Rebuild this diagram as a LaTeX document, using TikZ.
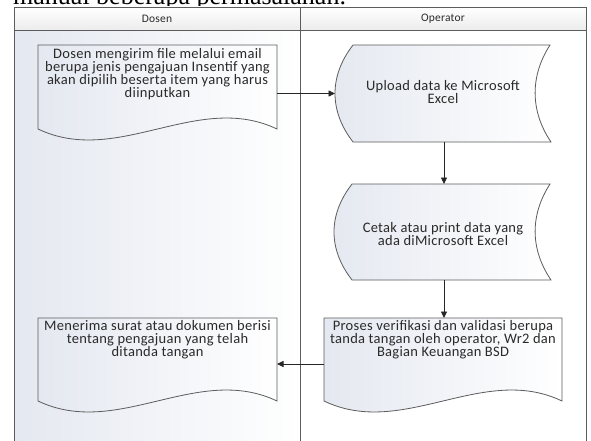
\documentclass[tikz,border=0pt]{standalone}
\usepackage{fontspec}
\setmainfont{Carlito}[LetterSpace=2]
\newfontfamily\captionserif{Liberation Serif}
\usetikzlibrary{arrows.meta}
\definecolor{edge}{HTML}{5C5C5C}
\definecolor{ink}{HTML}{2A2A2A}
\definecolor{tint}{HTML}{E4E8F0}
\definecolor{band}{HTML}{ECECEC}
\begin{document}
\begin{tikzpicture}[x=1pt,y=-1pt,
  laneline/.style={draw=edge, line width=0.8pt},
  shapeline/.style={draw=edge, line width=0.8pt, left color=tint, right color=white},
  boxtext/.style={text=ink, font=\fontsize{14.5}{13}\selectfont, align=center, inner sep=0pt},
  lanehead/.style={text=ink, font=\fontsize{11.5}{13}\selectfont, inner sep=0pt},
  flow/.style={draw=black!85, line width=0.8pt, -{Triangle[length=6.5pt,width=6pt]}}]
\useasboundingbox (0,0) rectangle (591,441);
\fill[white] (0,0) rectangle (591,441);

% line of body text above the pool, cut by the page edge
\node[anchor=base west, inner sep=0pt, text=black,
      font=\captionserif\fontsize{26}{30}\selectfont] (caption) at (13,4.5)
      {manual beberapa permasalahan.};

% pool with two lanes
\shade[left color=tint, right color=white] (14,30) rectangle (300,450);
\fill[white] (300,30) rectangle (586,450);
\shade[top color=white, bottom color=band] (14,7) rectangle (586,30);
\draw[laneline] (14,450) -- (14,7) -- (586,7) -- (586,450);
\draw[laneline] (14,30) -- (586,30);
\draw[laneline] (300,7) -- (300,450);
\node[lanehead] (hdosen) at (157,18.5) {Dosen};
\node[lanehead] (hoperator) at (443,18.5) {Operator};

% document: request sent by e-mail
\path[shapeline] (38,45) -- (277,45) -- (277,129)
  .. controls (197.3,91) and (117.7,167) .. (38,129) -- cycle;
\node[boxtext] (kirim) at (157.5,74.5)
  {Dosen mengirim file melalui email\\berupa jenis pengajuan Insentif yang\\akan dipilih beserta item yang harus\\diinputkan};

% stored data: upload
\path[shapeline] (353,45) -- (550,45) .. controls (530,76) and (530,111) .. (551,142)
  -- (353,142) .. controls (329,111) and (329,76) .. (353,45) -- cycle;
\node[boxtext] (upload) at (443,92.5) {Upload data ke Microsoft\\Excel};

% stored data: print
\path[shapeline] (352,184) -- (550,184) .. controls (530,215) and (530,249) .. (551,280)
  -- (352,280) .. controls (328,249) and (328,215) .. (352,184) -- cycle;
\node[boxtext] (cetak) at (443,234) {Cetak atau print data yang\\ada diMicrosoft Excel};

% document: verification
\path[shapeline] (324,318) -- (562,318) -- (562,401)
  .. controls (482.7,363) and (403.3,439) .. (324,401) -- cycle;
\node[boxtext] (proses) at (443,339.5)
  {Proses verifikasi dan validasi berupa\\tanda tangan oleh operator, Wr2 dan\\Bagian Keuangan BSD};

% document: signed letter received
\path[shapeline] (38,318) -- (277,318) -- (277,401)
  .. controls (197.3,363) and (117.7,439) .. (38,401) -- cycle;
\node[boxtext] (terima) at (157.5,339.5)
  {Menerima surat atau dokumen berisi\\tentang pengajuan yang telah\\ditanda tangan};

% connector end points on the shape outlines
\coordinate (kirimR) at (277,93.5);
\coordinate (uploadL) at (335,93.5);
\coordinate (uploadB) at (444,142);
\coordinate (cetakT) at (444,184);
\coordinate (cetakB) at (444,280);
\coordinate (prosesT) at (444,318);
\coordinate (prosesL) at (324,364);
\coordinate (terimaR) at (277,364);

\draw[flow] (kirimR) -- (uploadL);
\draw[flow] (uploadB) -- (cetakT);
\draw[flow] (cetakB) -- (prosesT);
\draw[flow] (prosesL) -- (terimaR);
\end{tikzpicture}
\end{document}
